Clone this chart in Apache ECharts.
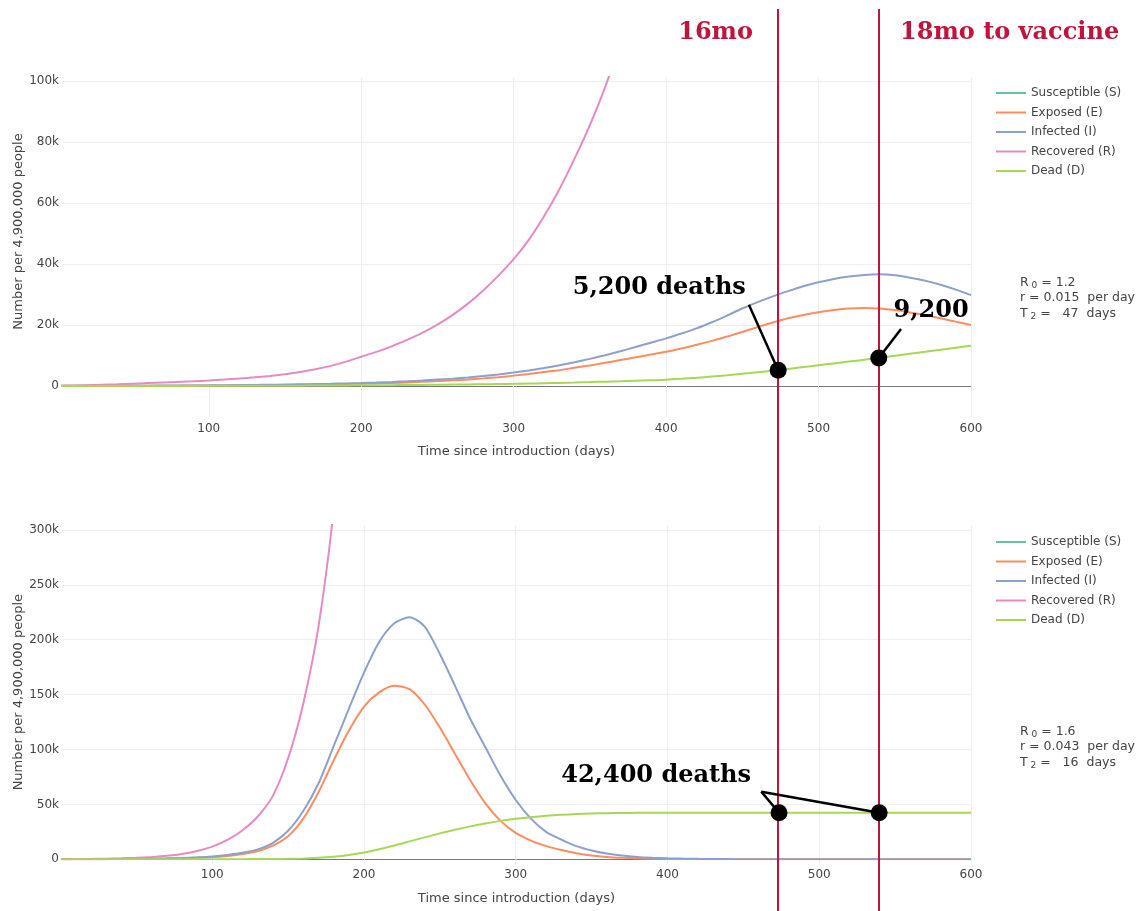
<!DOCTYPE html>
<html>
<head>
<meta charset="utf-8">
<script src="https://cdn.jsdelivr.net/npm/echarts@6/dist/echarts.min.js"></script>
<style>
  html, body { margin: 0; padding: 0; background: #fff; }
  #chart { width: 1136px; height: 911px; }
</style>
</head>
<body>
<div id="chart"></div>
<script>
// days since introduction, every 10 days
var days = [0,10,20,30,40,50,60,70,80,90,100,110,120,130,140,150,160,170,180,190,
  200,210,220,230,240,250,260,270,280,290,300,310,320,330,340,350,360,370,380,390,
  400,410,420,430,440,450,460,470,480,490,500,510,520,530,540,550,560,570,580,590,600];
var sDays = [0,100,200,300,400,500,600];
var xTicks = [100,200,300,400,500,600];
var names = ['Susceptible (S)','Exposed (E)','Infected (I)','Recovered (R)','Dead (D)'];

// values in thousands of people
// top: R0 = 1.2
var topS = [4900,4899.5,4897,4887,4860,4790,4680];
var topE = [0.04,0.05,0.05,0.06,0.07,0.08,0.09,0.1,0.12,0.14,0.17,0.2,0.23,0.26,0.3,0.35,0.41,0.48,0.56,0.65,
  0.76,0.88,1.02,1.18,1.37,1.6,1.85,2.15,2.5,2.9,3.4,3.95,4.6,5.2,6.0,6.75,7.6,8.5,9.4,10.3,
  11.2,12.3,13.5,14.8,16.2,17.7,19.3,20.8,22.2,23.3,24.2,24.9,25.4,25.6,25.4,24.9,24.1,23.2,22.2,21.1,20.0];
var topI = [0.05,0.06,0.07,0.08,0.09,0.1,0.12,0.14,0.16,0.19,0.22,0.26,0.3,0.35,0.4,0.47,0.55,0.64,0.74,0.86,
  1.0,1.15,1.34,1.55,1.8,2.1,2.4,2.8,3.25,3.8,4.4,5.1,5.9,6.8,7.8,8.9,10.1,11.4,12.8,14.2,
  15.6,17.2,18.9,20.9,23.1,25.4,27.5,29.4,31.1,32.7,34.0,35.1,35.9,36.4,36.6,36.3,35.5,34.5,33.2,31.6,29.8];
var topR = [0,0.1,0.25,0.4,0.55,0.75,0.95,1.15,1.35,1.55,1.8,2.1,2.45,2.85,3.3,3.85,4.6,5.5,6.6,8.0,
  9.6,11.2,13.0,15.1,17.4,20.1,23.3,27.0,31.3,36.2,41.6,48.0,55.7,64.5,74.6,85.5,98.0,112.5,129];
var topD = [0,0,0.01,0.01,0.01,0.02,0.02,0.03,0.03,0.04,0.05,0.06,0.07,0.08,0.09,0.1,0.12,0.14,0.16,0.19,
  0.22,0.25,0.28,0.32,0.36,0.41,0.46,0.52,0.58,0.65,0.72,0.81,0.91,1.02,1.14,1.28,1.43,1.57,1.72,1.88,
  2.05,2.35,2.7,3.1,3.5,4.0,4.5,5.0,5.6,6.2,6.8,7.4,8.0,8.6,9.25,9.9,10.55,11.2,11.9,12.55,13.2];

// bottom: R0 = 1.6
var botS = [4900,4890,4300,2600,1900,1800,1780];
var botE = [0.04,0.06,0.09,0.13,0.2,0.3,0.45,0.7,1.05,1.5,2.0,3.1,4.8,7.5,12.5,21,37,61,90,117,
  139,152,158,155,141,120,96,72,51,35,24,17,12,8.4,5.5,3.5,2.2,1.4,0.9,0.55,
  0.35,0.22,0.14,0.09,0.06,0.04,0.03,0.02,0.02,0.01,0.01,0.01,0.01,0.01,0,0,0,0,0,0,0];
var botI = [0.05,0.07,0.1,0.15,0.23,0.35,0.55,0.85,1.25,1.8,2.6,4.0,6.0,9.0,15,26,44,69,103,137,
  170,198,215,220.5,212,187,158,128,102,76,54,37,25,18,12,8,5.2,3.4,2.2,1.45,
  0.95,0.62,0.4,0.26,0.17,0.11,0.08,0.05,0.04,0.03,0.02,0.02,0.01,0.01,0.01,0.01,0.01,0,0,0,0];
var botR = [0,0.18,0.35,0.57,0.88,1.35,2.1,3.2,4.9,7.5,11.5,17.6,26.5,39,58,92,142,212,318,470];
var botD = [0,0,0,0,0,0.01,0.01,0.02,0.03,0.04,0.06,0.09,0.13,0.2,0.3,0.45,0.8,1.3,2.3,3.9,
  6.2,9.2,12.6,16.3,20.0,23.6,27.0,30.0,32.7,35.0,36.9,38.4,39.6,40.5,41.2,41.7,42.0,42.2,42.3,42.35,
  42.4,42.4,42.4,42.4,42.4,42.4,42.4,42.4,42.4,42.4,42.4,42.4,42.4,42.4,42.4,42.4,42.4,42.4,42.4,42.4,42.4];

// vaccine timing (days) and deaths read at those lines
var vaccineDays = [473.5, 539.5];
var topDeaths = [5.2, 9.2];
var botDeaths = [42.4, 42.4];

var colors = ['#66c2a5','#fc8d62','#8da0cb','#e78ac3','#a6d854'];
var red = '#c0143c';
var sans = 'DejaVu Sans';
var serif = 'DejaVu Serif';

function pairs(xs, vals){
    return vals.map(function(v, i){ return [xs[i], v]; });
}

function curve(name, color, xs, vals, idx){
    return {
        name: name, type: 'line', xAxisIndex: idx, yAxisIndex: idx,
        data: pairs(xs, vals), showSymbol: false, symbol: 'none',
        smooth: 0.25,
        lineStyle: {color: color, width: 2}, itemStyle: {color: color},
        clip: true, z: 2
    };
}

function xAx(idx, min, margin, tickLen, nameGap){
    return {
        gridIndex: idx, type: 'value', min: min, max: 600, splitNumber: 6,
        name: 'Time since introduction (days)', nameLocation: 'middle', nameGap: nameGap,
        nameTextStyle: {fontFamily: sans, fontSize: 13, color: '#444'},
        axisLine: {show: true, onZero: false, lineStyle: {color: '#777', width: 1}},
        axisTick: {show: true, length: tickLen, customValues: xTicks, lineStyle: {color: '#eee'}},
        axisLabel: {customValues: xTicks, margin: margin, fontFamily: sans, fontSize: 12, color: '#444'},
        splitLine: {show: true, showMinLine: false, lineStyle: {color: '#eee', width: 1}}
    };
}

function yAx(idx, max, interval, ticks, nameGap){
    return {
        gridIndex: idx, type: 'value', min: 0, max: max, interval: interval,
        name: 'Number per 4,900,000 people', nameLocation: 'middle', nameGap: nameGap,
        nameMoveOverlap: false,
        nameTextStyle: {fontFamily: sans, fontSize: 13, color: '#444'},
        axisLine: {show: false}, axisTick: {show: false},
        axisLabel: {customValues: ticks, margin: 3, fontFamily: sans, fontSize: 12, color: '#444',
            formatter: function(v){ return v === 0 ? '0' : v + 'k'; }},
        splitLine: {show: true, showMaxLine: false, lineStyle: {color: '#eee', width: 1}}
    };
}

function legendAt(top){
    return {
        data: names, orient: 'vertical', left: 991, top: top,
        itemWidth: 30, itemHeight: 14, itemGap: 7.5, icon: 'path://M0,6 L30,6 L30,8 L0,8 Z',
        textStyle: {fontFamily: sans, fontSize: 12, color: '#444'},
        selectedMode: false
    };
}

function params(top, r0, r, t2){
    return {
        type: 'text', left: 1020, top: top,
        style: {
            text: '{n|R}{s| 0}{n| = ' + r0 + '}\n{n|r = ' + r + '  per day}\n{n|T}{s| 2}{n| =   ' + t2 + '  days}',
            rich: {
                n: {fontFamily: sans, fontSize: 12.5, fill: '#444', color: '#444', lineHeight: 15.5},
                s: {fontFamily: sans, fontSize: 9, fill: '#444', color: '#444', lineHeight: 15.5, verticalAlign: 'bottom'}
            }
        }
    };
}

var bigLabel = {show: true, position: 'inside', formatter: '{b}', fontFamily: serif,
    fontWeight: 'bold', fontSize: 24, color: '#000', opacity: 1};

var chart = echarts.init(document.getElementById('chart'));
var option = {
    animation: false,
    backgroundColor: '#fff',
    grid: [
        {left: 62, right: 165, top: 77, height: 309, outerBoundsMode: 'none', containLabel: false},
        {left: 62, right: 165, top: 525, height: 334.3, outerBoundsMode: 'none', containLabel: false},
        {left: 62, right: 165, top: 9, bottom: 0, outerBoundsMode: 'none', containLabel: false}
    ],
    xAxis: [
        xAx(0, 3.7, 37, 31, 59),
        xAx(1, 1, 10, 5, 33),
        {gridIndex: 2, type: 'value', min: 3.7, max: 600, show: false}
    ],
    yAxis: [
        yAx(0, 101.3, 20, [0,20,40,60,80,100], 37),
        yAx(1, 304.5, 50, [0,50,100,150,200,250,300], 37),
        {gridIndex: 2, type: 'value', min: 0, max: 1, show: false}
    ],
    legend: [legendAt(82), legendAt(531)],
    graphic: [
        params(276, '1.2', '0.015', '47'),
        params(725, '1.6', '0.043', '16'),
        {type: 'text', x: 753, y: 33, style: {text: '16mo', align: 'right', verticalAlign: 'middle',
            fontFamily: serif, fontWeight: 'bold', fontSize: 24, fill: red}},
        {type: 'text', x: 900, y: 33, style: {text: '18mo to vaccine', align: 'left', verticalAlign: 'middle',
            fontFamily: serif, fontWeight: 'bold', fontSize: 24, fill: red}}
    ],
    series: [
        curve(names[0], colors[0], sDays, topS, 0),
        curve(names[1], colors[1], days, topE, 0),
        curve(names[2], colors[2], days, topI, 0),
        curve(names[3], colors[3], days, topR, 0),
        curve(names[4], colors[4], days, topD, 0),
        curve(names[0], colors[0], sDays, botS, 1),
        curve(names[1], colors[1], days, botE, 1),
        curve(names[2], colors[2], days, botI, 1),
        curve(names[3], colors[3], days, botR, 1),
        curve(names[4], colors[4], days, botD, 1),
        {
            // vaccine lines across both panels
            type: 'line', xAxisIndex: 2, yAxisIndex: 2, data: [], z: 5, silent: true,
            markLine: {
                silent: true, symbol: ['none','none'], label: {show: false},
                lineStyle: {color: red, width: 2, type: 'solid'},
                data: vaccineDays.map(function(d){ return {xAxis: d}; })
            }
        },
        {
            type: 'scatter', xAxisIndex: 0, yAxisIndex: 0, z: 8, silent: true,
            symbolSize: 17, itemStyle: {color: '#000', opacity: 1},
            data: pairs(vaccineDays, topDeaths),
            markLine: {
                silent: true, symbol: ['none','none'], label: {show: false},
                lineStyle: {color: '#000', width: 2.5, type: 'solid', opacity: 1},
                data: [
                    [{coord: [454.3, 26.6]}, {coord: [vaccineDays[0], topDeaths[0]]}],
                    [{coord: [554.1, 18.7]}, {coord: [vaccineDays[1], topDeaths[1]]}]
                ]
            }
        },
        {
            type: 'scatter', xAxisIndex: 0, yAxisIndex: 0, z: 9, silent: true,
            symbolSize: 0, itemStyle: {opacity: 1}, label: bigLabel,
            data: [{name: '5,200 deaths', value: [395.5, 32.1]}, {name: '9,200', value: [573.8, 24.6]}]
        },
        {
            type: 'scatter', xAxisIndex: 1, yAxisIndex: 1, z: 8, silent: true,
            symbolSize: 17, itemStyle: {color: '#000', opacity: 1},
            data: pairs(vaccineDays, botDeaths),
            markLine: {
                silent: true, symbol: ['none','none'], label: {show: false},
                lineStyle: {color: '#000', width: 2.5, type: 'solid', opacity: 1},
                data: [
                    [{coord: [461.8, 61.6]}, {coord: [vaccineDays[0], botDeaths[0]]}],
                    [{coord: [461.8, 61.6]}, {coord: [vaccineDays[1], botDeaths[1]]}]
                ]
            }
        },
        {
            type: 'scatter', xAxisIndex: 1, yAxisIndex: 1, z: 9, silent: true,
            symbolSize: 0, itemStyle: {opacity: 1}, label: bigLabel,
            data: [{name: '42,400 deaths', value: [392.5, 75.9]}]
        }
    ]
};
chart.setOption(option);
</script>
</body>
</html>
